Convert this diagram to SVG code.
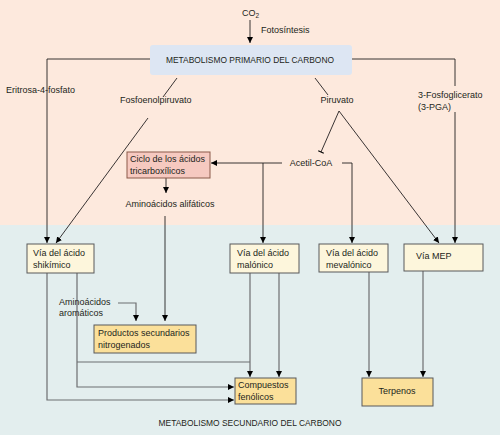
<svg xmlns="http://www.w3.org/2000/svg" width="500" height="435" viewBox="0 0 500 435">
<style>
text{font-family:"Liberation Sans",Arial,sans-serif;font-size:9px;fill:#231f20}
.c{text-anchor:middle}
.top{fill:none;stroke:#231f20;stroke-width:0.9}
.bot{fill:none;stroke:#6d6e71;stroke-width:1.2}
.via{fill:#fdf6dc;stroke:#58595b;stroke-width:1}
.prod{fill:#fbe09a;stroke:#58595b;stroke-width:1}
</style>
<defs>
<marker id="ah" viewBox="0 0 10 10" refX="10" refY="5" markerWidth="6" markerHeight="6" markerUnits="userSpaceOnUse" orient="auto">
<path d="M0,0 L10,5 L0,10 z" fill="#000"/>
</marker>
<marker id="tee" viewBox="0 0 10 10" refX="5" refY="5" markerWidth="6" markerHeight="6" markerUnits="userSpaceOnUse" orient="auto">
<path d="M5,0 L5,10" stroke="#000" stroke-width="2"/>
</marker>
</defs>
<rect x="0" y="0" width="500" height="225" fill="#fde9dd"/>
<rect x="0" y="225" width="500" height="210" fill="#e3eeee"/>

<g id="connectors">
<path class="top" d="M250,20 V43" marker-end="url(#ah)"/>
<path class="top" d="M150,59 H47 V243" marker-end="url(#ah)"/>
<path class="top" d="M177,78 L163,97"/>
<path class="top" d="M148,118 L56,243" marker-end="url(#ah)"/>
<path class="top" d="M352,59 H455 V86"/>
<path class="top" d="M455,112 V243" marker-end="url(#ah)"/>
<path class="top" d="M315,78 L328,95"/>
<path class="top" d="M339,111 L321,152" marker-end="url(#tee)"/>
<path class="top" d="M339,111 L439,243" marker-end="url(#ah)"/>
<path class="top" d="M282,163 H211" marker-end="url(#ah)"/>
<path class="top" d="M263,163 V243" marker-end="url(#ah)"/>
<path class="top" d="M342,163 H352 V243" marker-end="url(#ah)"/>
<path class="top" d="M166,178 V193" marker-end="url(#ah)"/>
<path class="top" d="M165,216 V321" marker-end="url(#ah)"/>
<path class="bot" d="M47,273 V400 H234" marker-end="url(#ah)"/>
<path class="bot" d="M77,273 V387 H234" marker-end="url(#ah)"/>
<path class="bot" d="M77,362 H250"/>
<path class="bot" d="M250,273 V377" marker-end="url(#ah)"/>
<path class="bot" d="M279,273 V377" marker-end="url(#ah)"/>
<path class="bot" d="M118,303 H136 V321" marker-end="url(#ah)"/>
<path class="bot" d="M369,272 V377" marker-end="url(#ah)"/>
<path class="bot" d="M423,271 V377" marker-end="url(#ah)"/>
</g>

<g id="co2"><text x="242" y="16">CO<tspan font-size="6.5" dy="2">2</tspan></text></g>
<g id="fotosintesis"><text x="261" y="33">Fotosíntesis</text></g>

<g id="primario">
<rect x="150" y="45" width="202" height="30" rx="3" fill="#dde6f3"/>
<text class="c" x="250" y="63" textLength="168" lengthAdjust="spacingAndGlyphs">METABOLISMO PRIMARIO DEL CARBONO</text>
</g>

<g id="eritrosa"><text x="6" y="93">Eritrosa-4-fosfato</text></g>
<g id="fosfoenol"><text x="120" y="103">Fosfoenolpiruvato</text></g>
<g id="piruvato"><text class="c" x="337" y="103">Piruvato</text></g>
<g id="pga"><text x="418" y="98">3-Fosfoglicerato</text><text x="418" y="110">(3-PGA)</text></g>
<g id="acetil"><text class="c" x="311" y="166">Acetil-CoA</text></g>

<g id="ciclo">
<rect x="127" y="152" width="83" height="26" fill="#f6c9c0" stroke="#8b5a4a" stroke-width="1"/>
<text x="130" y="162">Ciclo de los ácidos</text>
<text x="130" y="174">tricarboxílicos</text>
</g>
<g id="alifaticos"><text class="c" x="170" y="207">Aminoácidos alifáticos</text></g>

<g id="shikimico">
<rect class="via" x="27" y="244" width="67" height="29"/>
<text x="33" y="256">Vía del ácido</text>
<text x="33" y="268">shikímico</text>
</g>
<g id="malonico">
<rect class="via" x="230" y="244" width="69" height="29"/>
<text x="237" y="256">Vía del ácido</text>
<text x="237" y="268">malónico</text>
</g>
<g id="mevalonico">
<rect class="via" x="319" y="244" width="69" height="28"/>
<text x="326" y="256">Vía del ácido</text>
<text x="326" y="268">mevalónico</text>
</g>
<g id="mep">
<rect class="via" x="404" y="244" width="79" height="27"/>
<text x="416" y="259">Vía MEP</text>
</g>

<g id="aromaticos"><text x="59" y="305">Aminoácidos</text><text x="59" y="316">aromáticos</text></g>

<g id="nitrogenados">
<rect class="prod" x="94" y="325" width="102" height="28"/>
<text x="98" y="336">Productos secundarios</text>
<text x="98" y="348">nitrogenados</text>
</g>
<g id="fenolicos">
<rect class="prod" x="235" y="378" width="61" height="26"/>
<text x="238" y="388">Compuestos</text>
<text x="238" y="400">fenólicos</text>
</g>
<g id="terpenos">
<rect class="prod" x="362" y="378" width="71" height="28"/>
<text class="c" x="397" y="394">Terpenos</text>
</g>

<g id="secundario"><text class="c" x="250" y="426" textLength="183" lengthAdjust="spacingAndGlyphs">METABOLISMO SECUNDARIO DEL CARBONO</text></g>
</svg>
